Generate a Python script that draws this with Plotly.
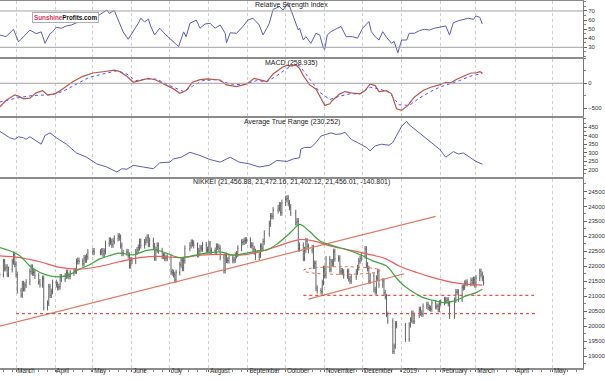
import pandas as pd
import plotly.graph_objects as go
from plotly.subplots import make_subplots

BASE = pd.Timestamp("2018-02-16")
X_RANGE = ["2018-02-16 07:00", "2019-05-24 22:00"]

# ---------------- data ----------------
holidays = ["2018-03-21", "2018-04-30", "2018-05-03", "2018-05-04", "2018-07-16",
            "2018-09-17", "2018-09-24", "2018-10-08", "2018-11-23", "2018-12-24",
            "2018-12-31", "2019-01-01", "2019-01-02", "2019-01-03", "2019-01-14",
            "2019-02-11"]

close = [
    21720,
    22149, 21925, 21970, 21736, 21892,
    22153, 22389, 22068, 21724, 21181,
    21042, 21417, 21252, 21368, 21469,
    21824, 21968, 21777, 21803, 21676,
    21480, 21380, 21591, 20617,
    20766, 21317, 21031, 21159, 21454,
    21388, 21292, 21319, 21645, 21567,
    21678, 21794, 21687, 21660, 21778,
    21835, 21847, 22158, 22191, 22162,
    22088, 22278, 22215, 22319, 22467,
    22508, 22472,
    22467, 22508, 22408, 22497, 22758,
    22865, 22818, 22717, 22838, 22930,
    23002, 22960, 22689, 22437, 22450,
    22481, 22358, 22018, 22201, 22171,
    22475, 22539, 22625, 22823, 22694,
    22804, 22878, 22966, 22738, 22851,
    22680, 22278, 22555, 22693, 22516,
    22338, 22342, 22271, 22270, 22304,
    21811, 21785, 21717, 21546, 21788,
    22052, 22196, 21932, 22187, 22597,
    22697, 22794, 22764, 22698,
    22397, 22510, 22614, 22586, 22712,
    22544, 22553, 22746, 22512, 22525,
    22507, 22662, 22644, 22598, 22298,
    21858, 22356, 22204, 22192, 22270,
    22199, 22219, 22362, 22410, 22601,
    22799, 22813, 22848, 22869, 22865,
    22707, 22696, 22580, 22487, 22307,
    22373, 22664, 22604, 22821, 23094,
    23420, 23672, 23674, 23869,
    23940, 24033, 23796, 24120,
    24245, 24270, 24110, 23975, 23784,
    23469, 23506, 22590, 22694,
    22271, 22549, 22841, 22658, 22532,
    22614, 22010, 22091, 21268, 21184,
    21149, 21457, 21920, 21687, 22243,
    21898, 22147, 22086, 22486, 22250,
    22269, 21810, 21846, 21803, 21680,
    21821, 21583, 21507, 21646,
    21812, 21952, 22177, 22262, 22351,
    22574, 22036, 21919, 21501, 21679,
    21219, 21148, 21602, 21816, 21374,
    21506, 21115, 20987, 20393, 20166,
    19155, 19327, 20077, 20015,
    19561,
    20038, 20204, 20427, 20163, 20360,
    20555, 20442, 20402, 20666,
    20719, 20622, 20593, 20574, 20773,
    20649, 20664, 20556, 20773, 20788,
    20883, 20844, 20874, 20751, 20333,
    20864, 21144, 21139, 20900,
    21281, 21302, 21431, 21464, 21425,
    21528, 21449, 21556, 21385, 21602,
    21822, 21726, 21596, 21456,
]

# indicator readings: day offset from BASE, value
rsi_day = [0, 5, 11, 15, 17, 24, 29, 33, 36, 40, 42, 45, 49, 53, 57, 61, 69, 79, 85, 87,
           91, 94, 98, 102, 106, 110, 112, 115, 118, 120, 123, 127, 132, 136, 142, 146, 148, 151, 156, 159,
           163, 167, 171, 175, 179, 180, 183, 188, 193, 197, 201, 206, 209, 212, 214, 217, 222, 225, 228, 230,
           233, 237, 238, 241, 243, 247, 251, 254, 257, 258, 260, 263, 268, 271, 275, 280, 284, 288, 293, 295,
           298, 301, 304, 307, 311, 313, 316, 319, 323, 325, 329, 333, 337, 341, 345, 349, 354, 357, 360, 364,
           368, 372, 376, 378, 381, 383]
rsi_val = [43.6, 41.7, 49.8, 36, 38.8, 49, 45, 47, 34.4, 45, 47, 52, 51, 53.5, 54.6, 57, 60, 65.6, 71, 67.4,
           70.4, 60, 47, 38.8, 47, 56.4, 62, 58, 61, 52.8, 43.6, 51, 43.6, 38, 30.7, 47, 41.7, 56.4, 60, 51,
           55.7, 56.4, 51, 54.6, 45.4, 35, 46, 45.4, 52.8, 60, 62, 54.6, 43.6, 51, 56.4, 71.8, 74.8, 71, 77.7, 75.5,
           63.8, 49, 51, 38, 41.7, 34.4, 45.4, 43.6, 28.9, 27.8, 43.6, 47.2, 51, 52.8, 41.7, 41.7, 40, 51, 58.3, 47.2,
           41.7, 38, 47.2, 41, 34.4, 36.4, 24, 38, 38, 45.4, 45.4, 48.3, 49.8, 49, 51, 52, 53.5, 43.6, 57, 59.3,
           60.8, 62, 60.8, 64.5, 63, 55.7]

macd_day = [0, 5, 12, 15, 19, 24, 29, 34, 38, 44, 50, 58, 66, 74, 82, 91, 95, 101, 106, 111,
            118, 124, 132, 138, 143, 148, 153, 159, 165, 175, 180, 188, 196, 202, 209, 212, 217, 224, 228, 231,
            235, 238, 241, 246, 251, 258, 262, 264, 270, 274, 279, 286, 290, 294, 298, 301, 307, 311, 315, 319,
            324, 329, 336, 342, 349, 354, 358, 362, 369, 374, 378, 381, 383]
macd_val = [-480, -347, -233, -260, -313, -300, -193, -147, -233, -213, -113, 33, 140, 207, 233, 267, 240, 140, 20, 53,
            100, 67, -33, -113, -200, -147, 20, 73, 87, 67, -33, -67, -13, 100, 53, 33, 187, 320, 367, 353,
            367, 300, 153, -33, -113, -447, -413, -347, -213, -167, -193, -213, -147, -13, -47, -167, -147, -213, -513, -547,
            -447, -280, -147, -80, -33, 20, 7, 73, 153, 207, 207, 233, 210]
sig_day = [0, 13, 26, 40, 50, 61, 71, 82, 93, 101, 108, 116, 124, 135, 146, 153, 161, 172, 183, 193,
           204, 212, 220, 228, 234, 238, 246, 254, 262, 270, 278, 286, 294, 301, 309, 317, 325, 333, 341, 349,
           357, 365, 373, 381, 383]
sig_val = [-380, -300, -247, -233, -167, -13, 120, 187, 253, 187, 53, 87, 87, -47, -167, -60, 53, 73, -13, -33,
           53, 33, 153, 300, 367, 353, 87, -180, -327, -260, -213, -213, -80, -113, -180, -433, -447, -300, -180, -80,
           -13, 53, 140, 187, 200]

atr_day = [0, 8, 12, 15, 19, 21, 24, 29, 33, 36, 40, 45, 53, 61, 69, 77, 85, 93, 97, 101,
           106, 114, 122, 127, 135, 138, 144, 151, 159, 167, 175, 183, 190, 198, 206, 214, 220, 228, 233, 238,
           239, 242, 247, 251, 255, 259, 263, 267, 271, 274, 279, 284, 291, 294, 298, 303, 309, 312, 315, 319,
           323, 325, 333, 341, 349, 354, 360, 364, 368, 373, 378, 383]
atr_val = [427, 388, 379, 394, 388, 379, 394, 369, 350, 402, 417, 388, 350, 298, 273, 234, 215, 186, 205, 202,
           225, 215, 205, 240, 244, 263, 273, 302, 283, 259, 244, 273, 244, 234, 215, 225, 254, 248, 263, 270,
           321, 331, 331, 360, 398, 408, 417, 408, 411, 421, 379, 360, 331, 311, 340, 350, 344, 360, 398, 456,
           485, 465, 417, 369, 321, 273, 306, 292, 298, 273, 248, 232]

ma_fast_day = [0, 8, 16, 24, 32, 40, 48, 56, 63, 71, 79, 87, 95, 106, 116, 124, 132, 143, 151, 159,
               175, 185, 196, 206, 212, 220, 228, 233, 238, 246, 254, 264, 278, 288, 296, 307, 315, 320, 325, 330,
               336, 344, 354, 362, 370, 378, 383]
ma_fast_val = [22630, 22520, 22350, 22010, 21790, 21680, 21650, 21730, 21900, 22040, 22240, 22350, 22440, 22380, 22520,
               22550, 22440, 22290, 22330, 22400, 22480, 22370, 22440, 22520, 22550, 22740, 23020, 23220, 23400, 23160,
               22850, 22690, 22520, 22350, 22180, 22010, 21600, 21380, 21220, 21090, 20950, 20860, 20780, 20860, 21010,
               21120, 21230]
ma_slow_day = [0, 16, 32, 48, 63, 79, 95, 111, 127, 143, 159, 175, 190, 206, 222, 238, 249, 264, 280, 296,
               307, 317, 331, 344, 357, 370, 383]
ma_slow_val = [22350, 22290, 22150, 21960, 21900, 21990, 22150, 22290, 22330, 22290, 22370, 22400, 22370, 22480, 22690,
               22890, 22850, 22660, 22520, 22370, 22240, 22010, 21790, 21620, 21480, 21400, 21370]

month_ticks = ["2018-03-01", "2018-04-01", "2018-05-01", "2018-06-01", "2018-07-01", "2018-08-01",
               "2018-09-01", "2018-10-01", "2018-11-01", "2018-12-01", "2019-01-01", "2019-02-01",
               "2019-03-01", "2019-04-01", "2019-05-01"]
month_labels = ["March", "April", "May", "June", "July", "August", "September", "October",
                "November", "December", "2019", "February", "March", "April", "May"]

rsi_levels = [70, 30]
macd_levels = [0]

# analyst drawings on the price panel
trend_lines = [("2018-02-16", 20000, "2019-01-28", 23667),
               ("2018-10-19", 20900, "2019-01-03", 21750)]
support_lines = [("2018-10-15", 21030, "2019-04-16"),
                 ("2018-03-01", 20420, "2019-04-17")]
ellipse = ("2018-10-15", 21730, "2018-12-15", 21985)

titles = ["Relative Strength Index", "MACD (258.935)", "Average True Range (230.252)",
          "NIKKEI (21,456.88, 21,472.16, 21,402.12, 21,456.01, -140.801)"]


def to_dates(days):
    return [BASE + pd.Timedelta(days=d) for d in days]


# ---------------- build ----------------
dates = pd.bdate_range("2018-02-16", "2019-03-07", freq="C", holidays=holidays)
n = min(len(dates), len(close))
dates = dates[:n]
cl = close[:n]
op = [cl[0]] + cl[:-1]
hi = [max(o, c) * 1.0045 for o, c in zip(op, cl)]
lo = [min(o, c) * 0.9955 for o, c in zip(op, cl)]

FONT = "Arial, Liberation Sans, sans-serif"
fig = make_subplots(rows=4, cols=1, shared_xaxes=True, vertical_spacing=0)

LINE_BLUE = "#5c5cb8"
fig.add_trace(go.Scatter(x=to_dates(rsi_day), y=rsi_val, mode="lines",
                         line=dict(color=LINE_BLUE, width=1)), row=1, col=1)
fig.add_trace(go.Scatter(x=to_dates(sig_day), y=sig_val, mode="lines",
                         line=dict(color="#5050ff", width=1, dash="dot")), row=2, col=1)
fig.add_trace(go.Scatter(x=to_dates(macd_day), y=macd_val, mode="lines",
                         line=dict(color="#b4584e", width=1.2)), row=2, col=1)
fig.add_trace(go.Scatter(x=to_dates(atr_day), y=atr_val, mode="lines",
                         line=dict(color=LINE_BLUE, width=1)), row=3, col=1)

for (x0, y0, x1, y1) in trend_lines:
    fig.add_trace(go.Scatter(x=[x0, x1], y=[y0, y1], mode="lines",
                             line=dict(color="#e27a66", width=1.2)), row=4, col=1)
for (x0, y0, x1) in support_lines:
    fig.add_trace(go.Scatter(x=[x0, x1], y=[y0, y0], mode="lines",
                             line=dict(color="#e8504a", width=1.2, dash="dot")), row=4, col=1)

fig.add_trace(go.Scatter(x=to_dates(ma_slow_day), y=ma_slow_val, mode="lines",
                         line=dict(color="#f05a5a", width=1.2, shape="spline")), row=4, col=1)
fig.add_trace(go.Scatter(x=to_dates(ma_fast_day), y=ma_fast_val, mode="lines",
                         line=dict(color="#3fa43f", width=1.2, shape="spline")), row=4, col=1)

fig.add_trace(go.Ohlc(x=dates, open=op, high=hi, low=lo, close=cl, tickwidth=0.45,
                      increasing=dict(line=dict(color="#555555", width=0.9)),
                      decreasing=dict(line=dict(color="#555555", width=0.9))), row=4, col=1)

# reference levels
for lv in rsi_levels:
    fig.add_shape(type="line", xref="x domain", yref="y", x0=0, x1=1, y0=lv, y1=lv,
                  line=dict(color="#a0a0a0", width=1))
for lv in macd_levels:
    fig.add_shape(type="line", xref="x2 domain", yref="y2", x0=0, x1=1, y0=lv, y1=lv,
                  line=dict(color="#a0a0a0", width=1))
fig.add_shape(type="circle", xref="x4", yref="y4", x0=ellipse[0], y0=ellipse[1],
              x1=ellipse[2], y1=ellipse[3], line=dict(color="#e06a50", width=1, dash="dot"))

# axes (plot area: 583 px wide, bottom axis at y=368)
PLOT_H = 367.0
BOT = 368
def dom(top_px, bot_px):
    return [max(0.0, (BOT - bot_px) / PLOT_H), min(1.0, (BOT - top_px) / PLOT_H)]

ydoms = [dom(1, 57), dom(58.5, 116), dom(117.5, 177), dom(178.5, 368)]
yranges = [[19.3, 81], [-660, 500], [156, 508], [18600, 24933]]
ytickvals = [[30, 40, 50, 60, 70], [-500, 0], [200, 250, 300, 350, 400, 450],
             [19000 + 500 * i for i in range(12)]]
yminor = [5, 250, 25, 250]

tickfont = dict(family=FONT, size=6, color="#333")
for i in range(4):
    k = "" if i == 0 else str(i + 1)
    fig.layout["yaxis" + k].update(
        domain=ydoms[i], range=yranges[i], side="right", showgrid=False, zeroline=False,
        tickmode="array", tickvals=ytickvals[i], ticks="outside", ticklen=3, tickcolor="#666",
        showline=True, linecolor="#777", linewidth=1, tickfont=tickfont, automargin=False,
        ticklabeloverflow="allow", tickformat="d", exponentformat="none",
        minor=dict(ticks="outside", ticklen=2, dtick=yminor[i], tickcolor="#888"))
    fig.layout["xaxis" + k].update(
        range=X_RANGE, type="date", showgrid=True, gridcolor="#cfcfcf", griddash="dot", gridwidth=1,
        tickmode="array", tickvals=month_ticks, ticktext=month_labels, zeroline=False,
        showline=True, mirror=True, linecolor="#8c8c8c", linewidth=1.5, automargin=False,
        showticklabels=(i == 3), ticks="outside" if i == 3 else "", ticklen=2, tickcolor="#666",
        tickfont=dict(family=FONT, size=6.3, color="#333"), ticklabelposition="outside right",
        tickangle=0, ticklabeloverflow="allow", ticklabelstandoff=-4,
        rangeslider=dict(visible=False))
fig.layout.xaxis4.minor = dict(ticks="outside", ticklen=2, dtick=7 * 86400000, tick0="2018-02-19",
                               tickcolor="#888", showgrid=False)

# panel titles
title_y = [5, 63, 122, 182]
for t, ypx in zip(titles, title_y):
    fig.add_annotation(text=t, xref="paper", yref="paper", x=0.5, y=(BOT - ypx) / PLOT_H,
                       showarrow=False, xanchor="center", yanchor="middle",
                       font=dict(family=FONT, size=7, color="#222"))

# logo
fig.add_annotation(text="<b><span style='color:#d8365c'>Sunshine</span>Profits.com</b>",
                   xref="paper", yref="paper", x=65 / 583, y=(BOT - 17.5) / PLOT_H,
                   showarrow=False, xanchor="center", yanchor="middle",
                   font=dict(family=FONT, size=6.3, color="#111"),
                   bgcolor="white", bordercolor="#b0b0b0", borderwidth=1, borderpad=1)

fig.update_layout(template="none", width=605, height=381, showlegend=False,
                  margin=dict(l=0, r=22, t=1, b=13),
                  paper_bgcolor="white", plot_bgcolor="white", hovermode=False)

fig.write_html("out.html", config={"displayModeBar": False, "staticPlot": True},
               post_script="document.body.style.margin='0';document.body.style.overflow='hidden';")
